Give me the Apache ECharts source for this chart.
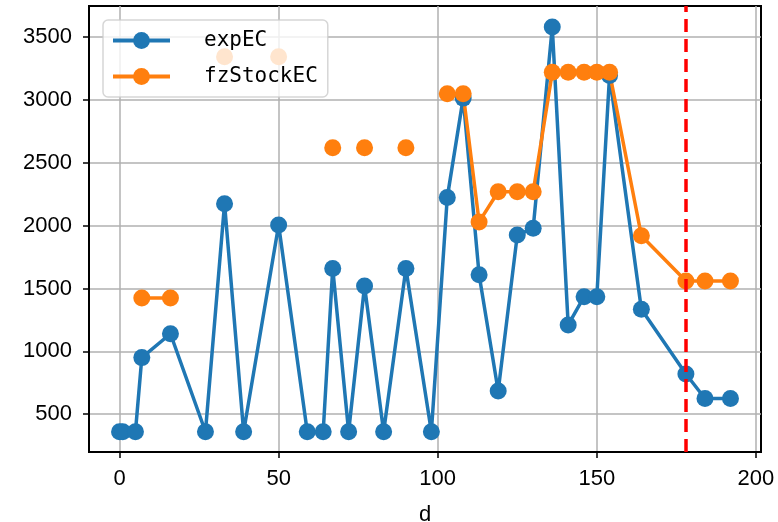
<!DOCTYPE html>
<html>
<head>
<meta charset="utf-8">
<script src="https://cdn.jsdelivr.net/npm/echarts@6/dist/echarts.min.js"></script>
<style>
html,body{margin:0;padding:0;background:#fff;}
#chart{width:778px;height:522px;}
</style>
</head>
<body>
<div id="chart"></div>
<script>
// x values (d) and the two series
var days=[0,1,5,7,16,27,33,39,50,59,64,67,72,77,83,90,98,103,108,113,119,125,130,136,141,146,150,154,164,178,184,192]
var expEC=[360,360,360,950,1140,360,2175,360,2005,360,360,1660,360,1520,360,1660,360,2225,3015,1610,685,1925,1980,3580,1210,1435,1435,3195,1335,820,625,625]
var fzStockEC=[null,null,null,1425,1425,null,3345,null,3345,null,null,2620,null,2620,null,2620,null,3050,3050,2030,2270,2270,2270,3220,3220,3220,3220,3220,1920,1560,1560,1560]
var xTicks=[0,50,100,150,200]
var yTicks=[500,1000,1500,2000,2500,3000,3500]
var cutDay=178

function pairs(ys){
	var out=[]
	for(var i=0;i<days.length;i++){
		out.push([days[i],ys[i]])
	}
	return out
}

var tickFont='Liberation Sans'
var mychart=echarts.init(document.getElementById('chart'));
var option={
	animation:false,
	backgroundColor:'#fff',
	grid:{
		left:89,right:17,top:6,bottom:70,
		outerBoundsMode:'none',
		containLabel:false,
		show:true,
		borderColor:'#000',
		borderWidth:2
	},
	legend:{
		left:103,top:20,
		orient:'vertical',
		itemWidth:57,
		itemHeight:21,
		itemGap:15,
		padding:[10,10,10,8],
		backgroundColor:'rgba(255,255,255,0.8)',
		borderColor:'rgba(204,204,204,0.8)',
		borderWidth:1.5,
		borderRadius:5,
		lineStyle:{width:4},
		textStyle:{
			fontFamily:'DejaVu Sans Mono',
			fontSize:21,
			color:'#000',
			padding:[0,0,0,29]
		},
		data:['expEC','fzStockEC']
	},
	xAxis:{
		type:'value',
		min:-9.6,
		max:201.6,
		name:'d',
		nameLocation:'middle',
		nameGap:52,
		nameTextStyle:{fontFamily:tickFont,fontSize:22,color:'#000'},
		axisLine:{show:true,onZero:false,lineStyle:{color:'#000',width:2}},
		axisTick:{show:true,length:6,customValues:xTicks,lineStyle:{color:'#000',width:1.5}},
		axisLabel:{customValues:xTicks,margin:16,fontFamily:tickFont,fontSize:22,color:'#000',
			formatter:function(v){return String(v)}},
		splitLine:{show:true,lineStyle:{color:'#b0b0b0',width:1.5}}
	},
	yAxis:{
		type:'value',
		min:199,
		max:3748,
		axisLine:{show:true,onZero:false,lineStyle:{color:'#000',width:2}},
		axisTick:{show:true,length:6,customValues:yTicks,lineStyle:{color:'#000',width:1.5}},
		axisLabel:{customValues:yTicks,margin:17,fontFamily:tickFont,fontSize:22,color:'#000',
			formatter:function(v){return String(v)}},
		splitLine:{show:true,lineStyle:{color:'#b0b0b0',width:1.5}}
	},
	series:[{
		name:'expEC',
		type:'line',
		data:pairs(expEC),
		symbol:'circle',
		symbolSize:17,
		showAllSymbol:true,
		itemStyle:{color:'#1f77b4'},
		lineStyle:{color:'#1f77b4',width:3.5},
		markLine:{
			silent:true,
			symbol:'none',
			label:{show:false},
			lineStyle:{color:'#ff0000',width:3.5,type:[13,7]},
			data:[{xAxis:cutDay}]
		}
	},{
		name:'fzStockEC',
		type:'line',
		data:pairs(fzStockEC),
		symbol:'circle',
		symbolSize:17,
		showAllSymbol:true,
		itemStyle:{color:'#ff7f0e'},
		lineStyle:{color:'#ff7f0e',width:3.5}
	}]
};
mychart.setOption(option);
</script>
</body>
</html>
